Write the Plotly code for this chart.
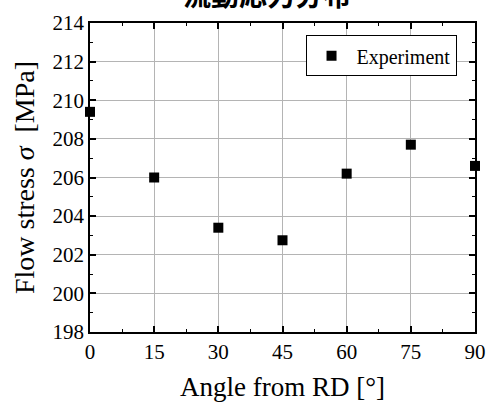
import plotly.graph_objects as go

angles = [0, 15, 30, 45, 60, 75, 90]
flow_stress = [209.4, 206.0, 203.4, 202.75, 206.2, 207.7, 206.6]
series_name = "Experiment"
x_ticks = [0, 15, 30, 45, 60, 75, 90]
y_ticks = [198, 200, 202, 204, 206, 208, 210, 212, 214]
title_text = "流動応力分布"

fig = go.Figure()
fig.add_trace(go.Scatter(
    x=angles, y=flow_stress, mode="markers", name=series_name,
    marker=dict(symbol="square", size=10, color="black"),
    cliponaxis=False,
))

axis_font = dict(family="Liberation Serif", size=21, color="black")
common = dict(
    showline=True, linecolor="black", linewidth=1.5, mirror="ticks",
    ticks="inside", ticklen=6, tickwidth=1.5, tickcolor="black",
    showgrid=True, gridcolor="#b4b4b4", gridwidth=1,
    zeroline=False, tickfont=axis_font,
)
fig.update_xaxes(
    range=[0, 90], tickvals=x_ticks,
    minor=dict(ticks="inside", ticklen=3, tickwidth=1.2, tickcolor="black", dtick=7.5, showgrid=False),
    title=dict(text="Angle from RD [°]", font=dict(family="Liberation Serif", size=27, color="black"), standoff=14),
    **common,
)
fig.update_yaxes(
    range=[198, 214], tickvals=y_ticks,
    minor=dict(ticks="inside", ticklen=3, tickwidth=1.2, tickcolor="black", dtick=1, showgrid=False),
    title=dict(text="Flow stress <i>σ</i>  [MPa]", font=dict(family="Liberation Serif", size=28, color="black"), standoff=10),
    **common,
)
fig.add_annotation(
    text="<b>" + title_text + "</b>", xref="paper", yref="paper", x=(272 - 90) / 396, y=1,
    xanchor="center", yanchor="bottom", yshift=7, showarrow=False,
    font=dict(family="Noto Sans CJK JP", size=28, color="black"),
)
fig.update_layout(
    width=497, height=408,
    margin=dict(l=90, r=11, t=20, b=68),
    plot_bgcolor="white", paper_bgcolor="white",
    showlegend=True,
    legend=dict(
        x=(467 - 90) / 396, y=0.96, xanchor="right", yanchor="top",
        bordercolor="black", borderwidth=1, bgcolor="white",
        font=dict(family="Liberation Serif", size=20, color="black"),
        itemwidth=40,
    ),
)
fig.write_html("out.html")
